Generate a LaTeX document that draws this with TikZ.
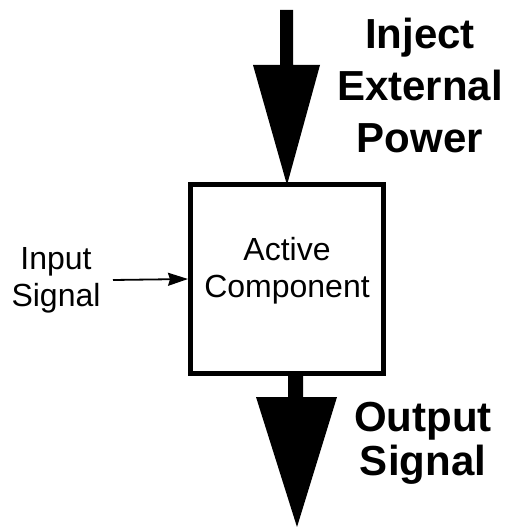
\documentclass[tikz,border=0pt]{standalone}
\usepackage{fontspec}
\setmainfont{Liberation Sans}
\usetikzlibrary{arrows.meta}
\begin{document}
\begin{tikzpicture}[x=1pt,y=-1pt,
  compbox/.style={draw=black,line width=5pt,minimum width=193pt,minimum height=189pt,inner sep=0pt},
  plain/.style={align=center,inner sep=0pt,font=\fontsize{32}{37}\selectfont},
  bigtxt/.style={align=center,inner sep=0pt,font=\bfseries\fontsize{42}{52}\selectfont},
  bigarrow/.style={fill=black,draw=none}]
\useasboundingbox (0,0) rectangle (507,527);
\node[compbox] (comp) at (287,279) {};
\node[plain] (comptxt) at (287,271) {Active\\Component};
\node[plain] (input) at (56,280) {Input\\Signal};
\node[bigtxt] (power) at (420,85) {Inject\\External\\Power};
\node[bigtxt,font=\bfseries\fontsize{42}{44}\selectfont] (output) at (423,443) {Output\\Signal};
\coordinate (instart) at (113,280);
\draw[line width=1.8pt,-{Stealth[length=20pt,width=13pt,inset=2pt]}] (instart) -- (comp.west);
% top power arrow
\fill[bigarrow] (280,10) -- (293,10) -- (293,65) -- (320,65) -- (287,185) -- (253,65) -- (280,65) -- cycle;
% output arrow
\fill[bigarrow] (288,376) -- (303,376) -- (303,397) -- (337,397) -- (297,527) -- (256,397) -- (288,397) -- cycle;
\end{tikzpicture}
\end{document}
